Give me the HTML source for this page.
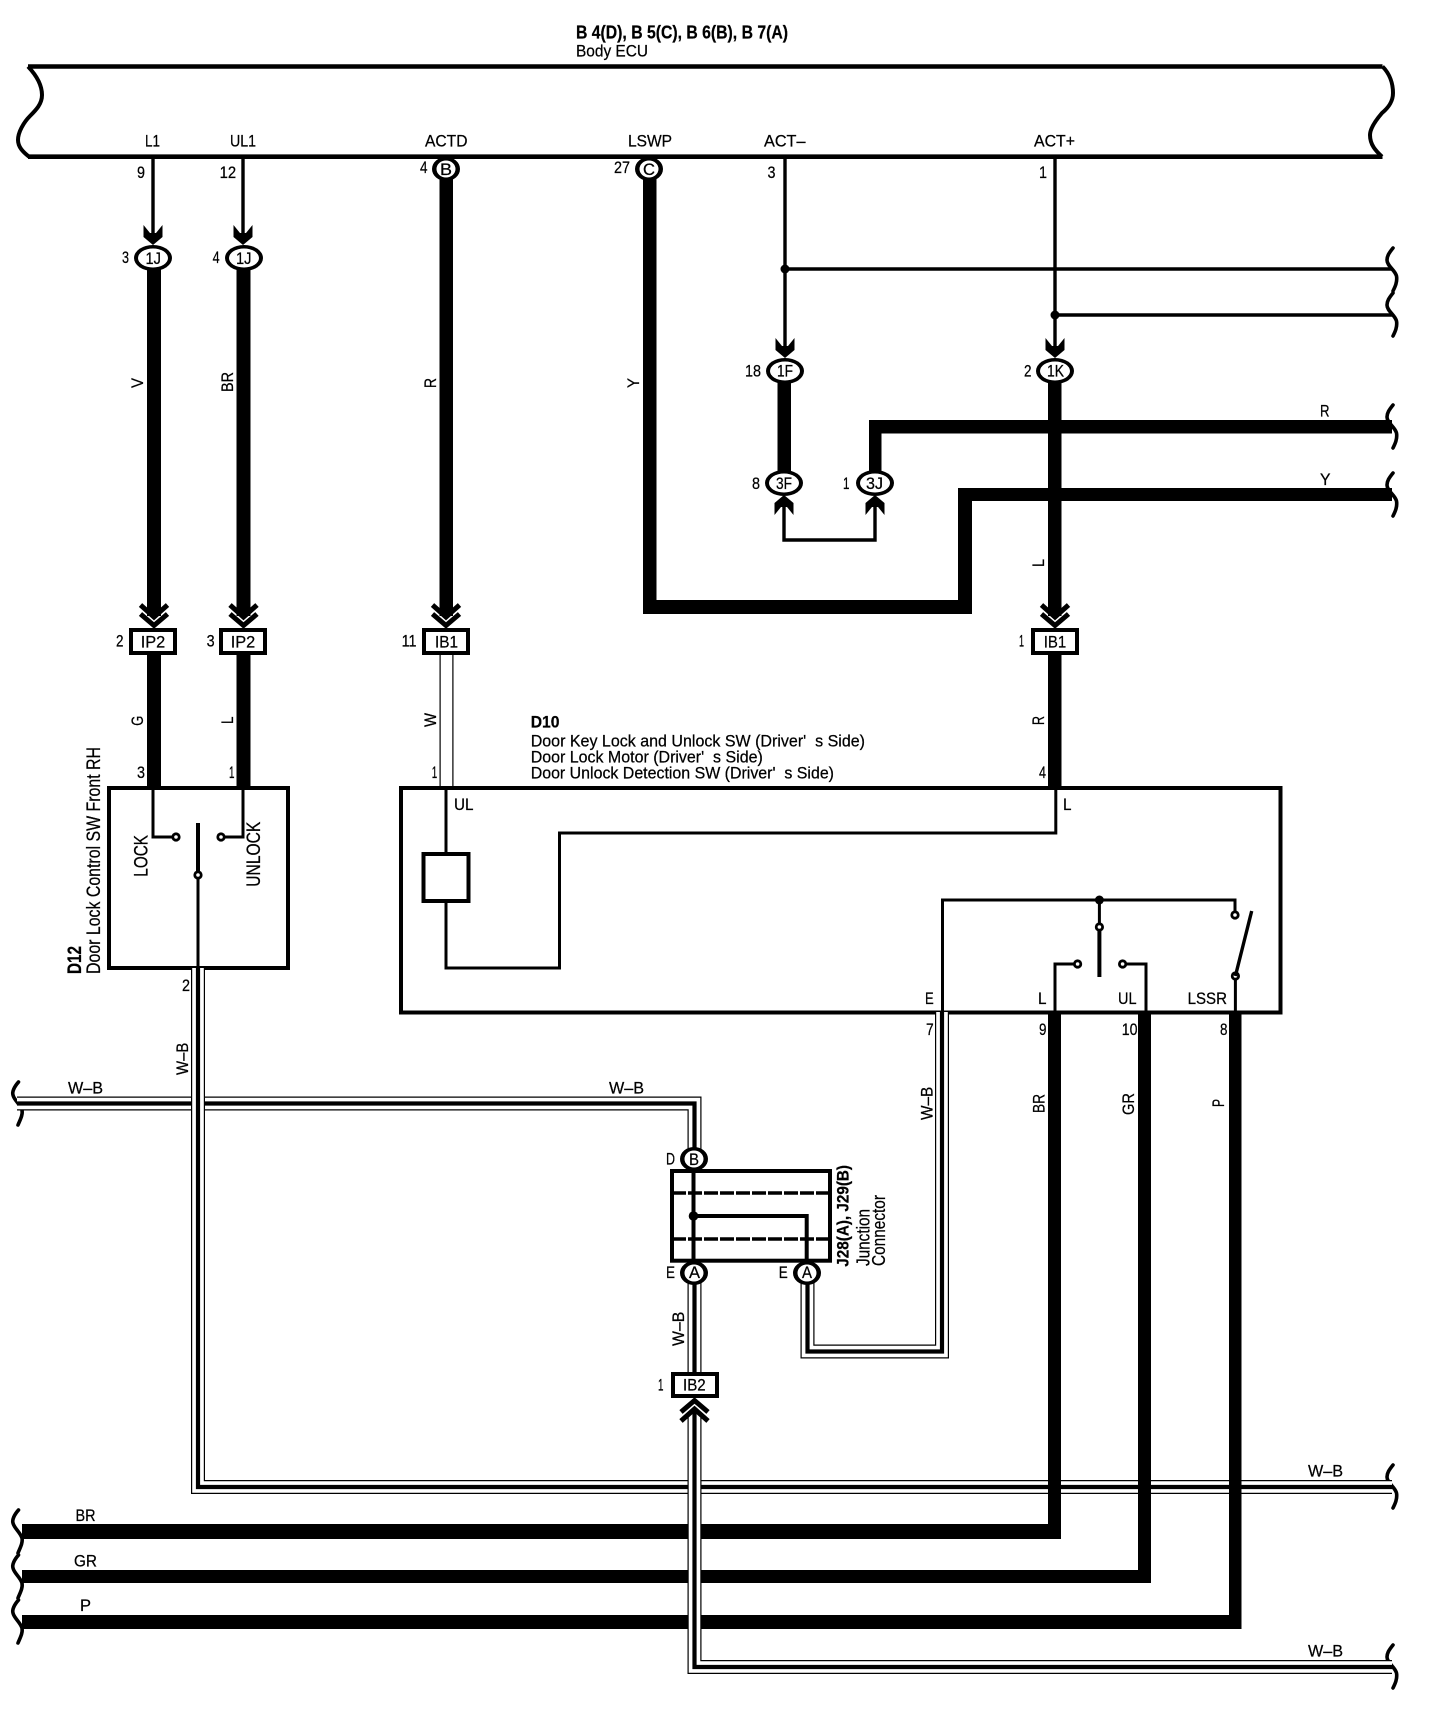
<!DOCTYPE html>
<html>
<head>
<meta charset="utf-8">
<style>
html,body{margin:0;padding:0;background:#fff}
svg{display:block}
text{font-family:"Liberation Sans",sans-serif;font-size:17px;fill:#000;stroke:#000;stroke-width:.25}
.o{fill:none;stroke:#000;stroke-width:14}
.w{fill:none;stroke:#fff;stroke-width:11.6}
.c{fill:none;stroke:#000;stroke-width:4.2}
.l{fill:none;stroke:#000;stroke-width:3}
.b{fill:none;stroke:#000;stroke-width:4}
.wave{fill:none;stroke:#000;stroke-width:3.6;stroke-linecap:round}
.box{fill:#fff;stroke:#000;stroke-width:4}
</style>
</head>
<body>
<svg width="1456" height="1734" viewBox="0 0 1456 1734" xmlns="http://www.w3.org/2000/svg">
<defs>
<path id="barb" d="M-9.500 -18V-6L0 2L9.500 -6V-18L3 -10H-3Z" fill="#000"/>
<g id="chev" fill="none" stroke="#000" stroke-width="5">
<polyline points="-13.500,-23 0,-11 13.500,-23"/>
<polyline points="-13.500,-14 0,-2.500 13.500,-14"/>
</g>
<g id="ell"><ellipse rx="19" ry="13" fill="#000"/><ellipse rx="15" ry="9.500" fill="#fff"/></g>
<g id="cir"><ellipse rx="14" ry="12" fill="#000"/><ellipse rx="9.500" ry="8.500" fill="#fff"/></g>
<g id="sw"><circle r="4.600" fill="#000"/><circle r="1.800" fill="#fff"/></g>
<path id="wl" class="wave" d="M18.500 0C14 5 12 10 13 13C14 18 20 22 22 28C23 33 20 38 18 43"/>
<path id="wr" class="wave" d="M1393 0C1389 5 1387 8 1387 12C1387 18 1395 22 1396.500 28C1397.500 34 1395 39 1393 43"/>
</defs>

<!-- ECU -->
<path d="M28 66.500H1382.500" fill="none" stroke="#000" stroke-width="4.600"/>
<path d="M28 156.700H1382.500" fill="none" stroke="#000" stroke-width="4.600"/>
<path d="M28 66.500C37 76 42 86 42 95C42 104 36 110 30 116C24 122 18 132 18 140C18 147 23 152 29 156.700" class="b"/>
<path d="M1382.500 66.500C1390 74 1393 84 1393 93C1393 102 1388 108 1382 113C1376 120 1370 128 1370 135C1370 145 1376 151 1382 156.700" class="b"/>

<!-- thin top wires -->
<path class="l" style="stroke-width:3.400" d="M153 157V238M243 157V238"/>
<path class="l" style="stroke-width:3.400" d="M785 157V350M1055 157V350"/>
<path class="l" style="stroke-width:3.400" d="M785 269H1392M1055 315H1392"/>
<ellipse cx="785" cy="269" rx="4.500" ry="4.500"/>
<ellipse cx="1055" cy="315" rx="4.500" ry="4.500"/>
<use href="#barb" transform="translate(153,243)"/>
<use href="#barb" transform="translate(243,243)"/>
<use href="#barb" transform="translate(785,356)"/>
<use href="#barb" transform="translate(1055,356)"/>

<!-- thick verticals top -->
<rect x="147" y="265" width="14" height="351"/>
<rect x="236.500" y="265" width="14" height="351"/>
<rect x="439.500" y="175" width="13.500" height="441"/>
<rect x="643" y="175" width="13.500" height="439"/>
<rect x="643" y="600" width="329" height="14"/>
<rect x="958" y="488" width="14" height="126"/>
<rect x="958" y="488" width="434" height="13"/>
<rect x="869" y="420" width="523" height="13.500"/>
<rect x="869" y="420" width="12.500" height="60"/>
<rect x="777.500" y="380" width="13.500" height="100"/>
<rect x="1048" y="380" width="13.500" height="236"/>

<!-- lower thick stubs -->
<rect x="147" y="650" width="14" height="138"/>
<rect x="236.500" y="650" width="14" height="138"/>
<rect x="1048" y="650" width="13.500" height="138"/>

<!-- 3F-3J link -->
<path class="l" style="stroke-width:3.400" d="M784 505V540H875V505"/>
<use href="#barb" transform="translate(784,497) scale(1,-1)"/>
<use href="#barb" transform="translate(875,497) scale(1,-1)"/>

<!-- right waves -->
<use href="#wr" y="248"/>
<use href="#wr" y="293"/>
<use href="#wr" y="405"/>
<use href="#wr" y="473"/>
<use href="#wr" y="1465"/>
<use href="#wr" y="1645"/>
<!-- left waves -->
<use href="#wl" y="1082"/>
<use href="#wl" y="1510"/>
<use href="#wl" y="1555"/>
<use href="#wl" y="1600"/>

<!-- connectors ellipses -->
<use href="#ell" x="153" y="258"/>
<use href="#ell" x="244" y="258"/>
<use href="#ell" x="785" y="371"/>
<use href="#ell" x="1055" y="371"/>
<use href="#ell" x="784" y="483"/>
<use href="#ell" x="875" y="483"/>
<use href="#cir" x="446" y="169"/>
<use href="#cir" x="649" y="169"/>

<!-- double white wire -->
<path class="o" d="M446.500 654V788"/>
<path class="w" d="M446.500 654V788"/>

<!-- chevrons & square connectors -->
<use href="#chev" x="154" y="628"/>
<use href="#chev" x="243.500" y="628"/>
<use href="#chev" x="446" y="628"/>
<use href="#chev" x="1055" y="628"/>
<rect class="box" x="131" y="630" width="44" height="23"/>
<rect class="box" x="221" y="630" width="44" height="23"/>
<rect class="box" x="424" y="630" width="44" height="23"/>
<rect class="box" x="1033" y="630" width="44" height="23"/>

<!-- D12 box -->
<rect x="109" y="788" width="179" height="180" fill="#fff" stroke="#000" stroke-width="4"/>
<path class="l" d="M153 788V837H176M243 788V837H221"/>
<path class="b" d="M198 823V875"/>
<path class="l" d="M198 875V968"/>
<use href="#sw" x="176" y="837"/>
<use href="#sw" x="221" y="837"/>
<use href="#sw" x="198" y="875"/>

<!-- D10 box -->
<rect x="401" y="788" width="879.500" height="224.500" fill="#fff" stroke="#000" stroke-width="4"/>
<path class="l" d="M446 788V854"/>
<rect x="423.500" y="854" width="45" height="47" fill="#fff" stroke="#000" stroke-width="4"/>
<path class="l" d="M446 901V968H559.500V833H1055.800V788"/>
<path class="l" d="M942.500 1012V900H1235V915"/>
<circle cx="1099.400" cy="900" r="4.500"/>
<path class="l" d="M1099.400 900V927"/>
<path class="b" d="M1099.400 927V977"/>
<use href="#sw" x="1099.400" y="927"/>
<use href="#sw" x="1235" y="915"/>
<path class="l" d="M1055 1012V964H1078M1146 1012V964H1122M1235.400 1012V976"/>
<use href="#sw" x="1077.600" y="964"/>
<use href="#sw" x="1122.600" y="964"/>
<use href="#sw" x="1235.400" y="976"/>
<path class="l" style="stroke-width:3.400" d="M1235.400 976L1251.700 911"/>

<!-- W-B top-left run -->
<path class="o" d="M17 1103.500H694.500V1160"/>
<path class="w" d="M17 1103.500H694.500V1160"/>
<path class="c" d="M17 1103.500H694.500V1160"/>

<!-- W-B from D12 across bottom -->
<path class="o" d="M198 968V1487H1392"/>
<path class="w" d="M198 968V1487H1392"/>
<path class="c" d="M198 968V1487H1392"/>

<!-- thick BR/GR/P -->
<rect x="22" y="1524" width="1039" height="15"/>
<rect x="1048" y="1012" width="13" height="527"/>
<rect x="22" y="1570" width="1129" height="13"/>
<rect x="1138" y="1012" width="13" height="571"/>
<rect x="22" y="1615" width="1219.500" height="14"/>
<rect x="1229" y="1012" width="12.500" height="617"/>

<!-- W-B from E -->
<path class="o" d="M807.500 1280V1351.500H942V1012"/>
<path class="w" d="M807.500 1280V1351.500H942V1012"/>
<path class="c" d="M807.500 1280V1351.500H942V1012"/>

<!-- W-B A to IB2 -->
<path class="o" d="M694.500 1280V1372"/>
<path class="w" d="M694.500 1280V1372"/>
<path class="c" d="M694.500 1280V1372"/>

<!-- W-B IB2 to bottom -->
<path class="o" d="M694.500 1417V1667H1392"/>
<path class="w" d="M694.500 1417V1667H1392"/>
<path class="c" d="M694.500 1411V1667H1392"/>
<use href="#chev" transform="translate(694.500,1398) scale(1,-1)"/>
<rect class="box" x="673" y="1374" width="44" height="22"/>

<!-- Junction -->
<rect x="672" y="1171" width="158" height="89.700" fill="#fff" stroke="#000" stroke-width="4"/>
<path d="M672 1193H830M672 1239H830" fill="none" stroke="#000" stroke-width="3.400" stroke-dasharray="14 2"/>
<path class="b" d="M693.500 1171V1261M693.500 1216H806.700V1261"/>
<circle cx="693.500" cy="1216" r="4.800"/>
<use href="#cir" x="694" y="1159"/>
<use href="#cir" x="694" y="1273"/>
<use href="#cir" x="807" y="1273"/>

<!-- TEXT: horizontal -->
<text x="576" y="38.500" font-weight="bold" style="font-size:18px" textLength="212" lengthAdjust="spacingAndGlyphs">B 4(D), B 5(C), B 6(B), B 7(A)</text>
<text x="576" y="56.500" textLength="72" lengthAdjust="spacingAndGlyphs">Body ECU</text>
<text x="145" y="146.700" textLength="15" lengthAdjust="spacingAndGlyphs">L1</text>
<text x="230" y="146.700" textLength="26" lengthAdjust="spacingAndGlyphs">UL1</text>
<text x="425" y="146.700" textLength="42.500" lengthAdjust="spacingAndGlyphs">ACTD</text>
<text x="628" y="146.700" textLength="44" lengthAdjust="spacingAndGlyphs">LSWP</text>
<text x="764" y="146.700" textLength="41.500" lengthAdjust="spacingAndGlyphs">ACT–</text>
<text x="1034" y="146.700" textLength="41" lengthAdjust="spacingAndGlyphs">ACT+</text>
<text x="137" y="178" textLength="8" lengthAdjust="spacingAndGlyphs">9</text>
<text x="219.600" y="178" textLength="16.500" lengthAdjust="spacingAndGlyphs">12</text>
<text x="420" y="173" textLength="7.500" lengthAdjust="spacingAndGlyphs">4</text>
<text x="614" y="173" textLength="16" lengthAdjust="spacingAndGlyphs">27</text>
<text x="767.500" y="178" textLength="8" lengthAdjust="spacingAndGlyphs">3</text>
<text x="1039" y="178" textLength="8" lengthAdjust="spacingAndGlyphs">1</text>
<text x="440" y="175" textLength="12" lengthAdjust="spacingAndGlyphs">B</text>
<text x="643" y="175" textLength="12" lengthAdjust="spacingAndGlyphs">C</text>
<text x="122" y="263" textLength="7" lengthAdjust="spacingAndGlyphs">3</text>
<text x="212.600" y="263" textLength="7" lengthAdjust="spacingAndGlyphs">4</text>
<text x="145.500" y="264" textLength="15.500" lengthAdjust="spacingAndGlyphs">1J</text>
<text x="236" y="264" textLength="15.500" lengthAdjust="spacingAndGlyphs">1J</text>
<text x="745" y="376.700" textLength="16" lengthAdjust="spacingAndGlyphs">18</text>
<text x="1024" y="376.700" textLength="7.500" lengthAdjust="spacingAndGlyphs">2</text>
<text x="777" y="376.700" textLength="16" lengthAdjust="spacingAndGlyphs">1F</text>
<text x="1047" y="376.700" textLength="17" lengthAdjust="spacingAndGlyphs">1K</text>
<text x="1320" y="416.700" textLength="9.500" lengthAdjust="spacingAndGlyphs">R</text>
<text x="1320" y="485" textLength="10.500" lengthAdjust="spacingAndGlyphs">Y</text>
<text x="752" y="489" textLength="8" lengthAdjust="spacingAndGlyphs">8</text>
<text x="843" y="489" textLength="6.500" lengthAdjust="spacingAndGlyphs">1</text>
<text x="776" y="489" textLength="16" lengthAdjust="spacingAndGlyphs">3F</text>
<text x="866" y="489" textLength="17" lengthAdjust="spacingAndGlyphs">3J</text>
<text x="116" y="646.700" textLength="7.500" lengthAdjust="spacingAndGlyphs">2</text>
<text x="206.600" y="646.700" textLength="8" lengthAdjust="spacingAndGlyphs">3</text>
<text x="401.600" y="646.700" textLength="15" lengthAdjust="spacingAndGlyphs">11</text>
<text x="1019" y="646.700" textLength="5" lengthAdjust="spacingAndGlyphs">1</text>
<text x="140.700" y="647.300" textLength="24.500" lengthAdjust="spacingAndGlyphs">IP2</text>
<text x="230.700" y="647.300" textLength="24.500" lengthAdjust="spacingAndGlyphs">IP2</text>
<text x="435" y="647.300" textLength="23" lengthAdjust="spacingAndGlyphs">IB1</text>
<text x="1043.700" y="647.300" textLength="22.500" lengthAdjust="spacingAndGlyphs">IB1</text>
<text x="137" y="778" textLength="8" lengthAdjust="spacingAndGlyphs">3</text>
<text x="229" y="778" textLength="5.500" lengthAdjust="spacingAndGlyphs">1</text>
<text x="431.800" y="778" textLength="5.500" lengthAdjust="spacingAndGlyphs">1</text>
<text x="1039" y="778" textLength="7" lengthAdjust="spacingAndGlyphs">4</text>
<text x="530.700" y="727.300" textLength="28.800" lengthAdjust="spacingAndGlyphs" font-weight="bold">D10</text>
<text x="530.700" y="746.700" textLength="334.300" lengthAdjust="spacingAndGlyphs">Door Key Lock and Unlock SW (Driver'&#160;&#160;s Side)</text>
<text x="530.700" y="762.700" textLength="232.100" lengthAdjust="spacingAndGlyphs">Door Lock Motor (Driver'&#160;&#160;s Side)</text>
<text x="530.700" y="778.300" textLength="303.300" lengthAdjust="spacingAndGlyphs">Door Unlock Detection SW (Driver'&#160;&#160;s Side)</text>
<text x="454" y="810" textLength="19.500" lengthAdjust="spacingAndGlyphs">UL</text>
<text x="1063" y="810" textLength="8.500" lengthAdjust="spacingAndGlyphs">L</text>
<text x="925" y="1004" textLength="8.700" lengthAdjust="spacingAndGlyphs">E</text>
<text x="1038" y="1004" textLength="8.500" lengthAdjust="spacingAndGlyphs">L</text>
<text x="1118" y="1004" textLength="18.500" lengthAdjust="spacingAndGlyphs">UL</text>
<text x="1187.600" y="1004" textLength="39.400" lengthAdjust="spacingAndGlyphs">LSSR</text>
<text x="926" y="1035" textLength="7.700" lengthAdjust="spacingAndGlyphs">7</text>
<text x="1039" y="1035" textLength="7.500" lengthAdjust="spacingAndGlyphs">9</text>
<text x="1121.700" y="1035" textLength="15.800" lengthAdjust="spacingAndGlyphs">10</text>
<text x="1220" y="1035" textLength="7.500" lengthAdjust="spacingAndGlyphs">8</text>
<text x="182" y="991" textLength="8" lengthAdjust="spacingAndGlyphs">2</text>
<text x="68" y="1093.300" textLength="35" lengthAdjust="spacingAndGlyphs">W–B</text>
<text x="609" y="1093.300" textLength="35" lengthAdjust="spacingAndGlyphs">W–B</text>
<text x="666" y="1164.500" textLength="9" lengthAdjust="spacingAndGlyphs">D</text>
<text x="689" y="1165" textLength="10" lengthAdjust="spacingAndGlyphs">B</text>
<text x="666" y="1278" textLength="9" lengthAdjust="spacingAndGlyphs">E</text>
<text x="689" y="1278" textLength="11" lengthAdjust="spacingAndGlyphs">A</text>
<text x="778.700" y="1278" textLength="9" lengthAdjust="spacingAndGlyphs">E</text>
<text x="802" y="1278" textLength="10" lengthAdjust="spacingAndGlyphs">A</text>
<text x="658" y="1390.700" textLength="5.500" lengthAdjust="spacingAndGlyphs">1</text>
<text x="683" y="1390.700" textLength="22.700" lengthAdjust="spacingAndGlyphs">IB2</text>
<text x="75.500" y="1521" textLength="20" lengthAdjust="spacingAndGlyphs">BR</text>
<text x="74" y="1566.500" textLength="23" lengthAdjust="spacingAndGlyphs">GR</text>
<text x="80" y="1611" textLength="11" lengthAdjust="spacingAndGlyphs">P</text>
<text x="1308" y="1476.500" textLength="35" lengthAdjust="spacingAndGlyphs">W–B</text>
<text x="1308" y="1656.500" textLength="35" lengthAdjust="spacingAndGlyphs">W–B</text>

<!-- TEXT: rotated -->
<text transform="translate(143,388) rotate(-90)" textLength="10" lengthAdjust="spacingAndGlyphs">V</text>
<text transform="translate(233,392) rotate(-90)" textLength="20" lengthAdjust="spacingAndGlyphs">BR</text>
<text transform="translate(436,388) rotate(-90)" textLength="10" lengthAdjust="spacingAndGlyphs">R</text>
<text transform="translate(639,388) rotate(-90)" textLength="10" lengthAdjust="spacingAndGlyphs">Y</text>
<text transform="translate(143,725.700) rotate(-90)" textLength="10" lengthAdjust="spacingAndGlyphs">G</text>
<text transform="translate(233,724) rotate(-90)" textLength="7.500" lengthAdjust="spacingAndGlyphs">L</text>
<text transform="translate(436,727) rotate(-90)" textLength="14" lengthAdjust="spacingAndGlyphs">W</text>
<text transform="translate(1044,725) rotate(-90)" textLength="9" lengthAdjust="spacingAndGlyphs">R</text>
<text transform="translate(1044,567) rotate(-90)" textLength="8" lengthAdjust="spacingAndGlyphs">L</text>
<text transform="translate(100,974) rotate(-90)" style="font-size:19.500px" textLength="227" lengthAdjust="spacingAndGlyphs">Door Lock Control SW Front RH</text>
<text transform="translate(81,974) rotate(-90)" style="font-size:19.500px" font-weight="bold" textLength="28" lengthAdjust="spacingAndGlyphs">D12</text>
<text transform="translate(147.500,876.700) rotate(-90)" style="font-size:19.500px" textLength="41.700" lengthAdjust="spacingAndGlyphs">LOCK</text>
<text transform="translate(260,886.700) rotate(-90)" style="font-size:19.500px" textLength="65" lengthAdjust="spacingAndGlyphs">UNLOCK</text>
<text transform="translate(188,1075) rotate(-90)" textLength="32.300" lengthAdjust="spacingAndGlyphs">W–B</text>
<text transform="translate(932.500,1120) rotate(-90)" textLength="33.300" lengthAdjust="spacingAndGlyphs">W–B</text>
<text transform="translate(684,1346) rotate(-90)" textLength="34.300" lengthAdjust="spacingAndGlyphs">W–B</text>
<text transform="translate(1044.500,1113) rotate(-90)" textLength="19" lengthAdjust="spacingAndGlyphs">BR</text>
<text transform="translate(1134,1115) rotate(-90)" textLength="22" lengthAdjust="spacingAndGlyphs">GR</text>
<text transform="translate(1224,1107) rotate(-90)" textLength="8" lengthAdjust="spacingAndGlyphs">P</text>
<text transform="translate(848.500,1266.700) rotate(-90)" font-weight="bold" textLength="101.700" lengthAdjust="spacingAndGlyphs">J28(A), J29(B)</text>
<text transform="translate(869.300,1266) rotate(-90)" style="font-size:18px" textLength="57" lengthAdjust="spacingAndGlyphs">Junction</text>
<text transform="translate(885,1266) rotate(-90)" style="font-size:18px" textLength="71" lengthAdjust="spacingAndGlyphs">Connector</text>
</svg>
</body>
</html>
